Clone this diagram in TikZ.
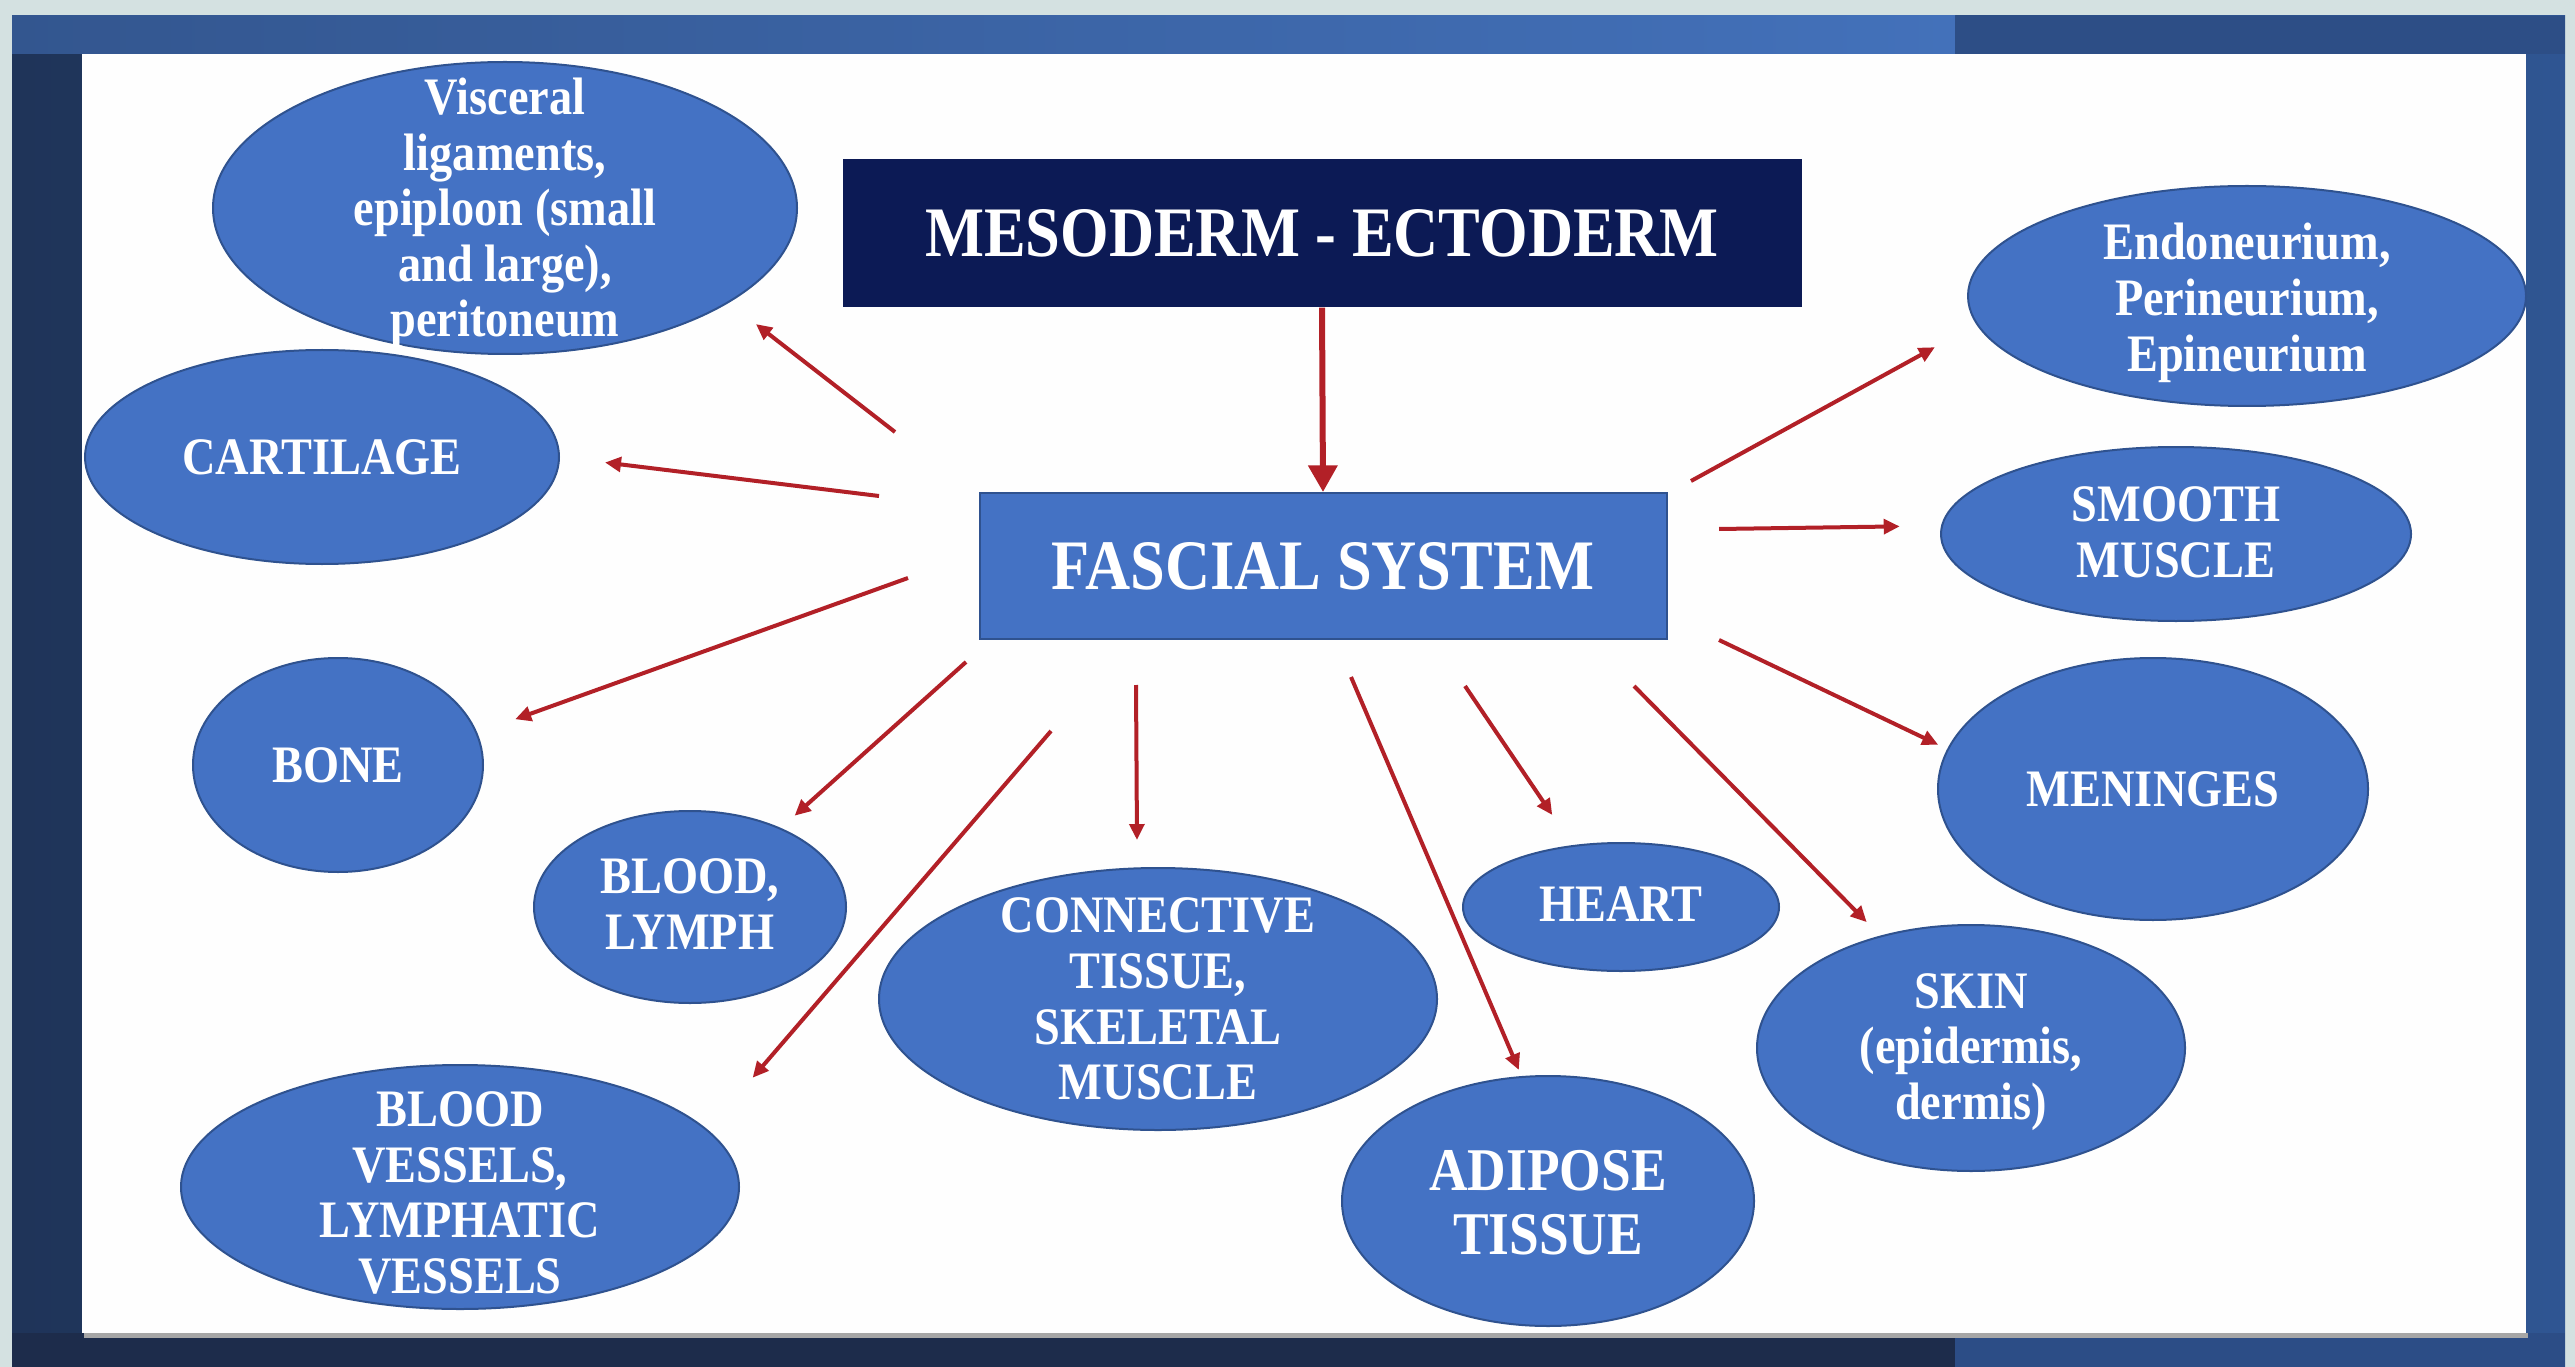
\documentclass[tikz,border=0pt]{standalone}
\usepackage{fontspec}
\setmainfont{Liberation Serif}[FakeStretch=0.88]
\usetikzlibrary{arrows.meta,shapes.geometric}
\definecolor{bgpale}{HTML}{D4E1E1}
\definecolor{framel}{HTML}{1F3459}
\definecolor{framer}{HTML}{2F5592}
\definecolor{topl}{HTML}{33568F}
\definecolor{topr}{HTML}{4371BA}
\definecolor{topdark}{HTML}{2D4E86}
\definecolor{botl}{HTML}{1D2C4B}
\definecolor{botr}{HTML}{2C4D86}
\definecolor{ellblue}{HTML}{4472C4}
\definecolor{ellborder}{HTML}{2F528F}
\definecolor{navy}{HTML}{0C1A55}
\definecolor{arrred}{HTML}{B22027}
\tikzset{
  ell/.style 2 args={ellipse, fill=ellblue, draw=ellborder, line width=0.6pt,
    minimum width=#1*0.6pt, minimum height=#2*0.6pt, inner sep=0pt},
  txt/.style={text=white, align=center, inner sep=0pt,
    font=\bfseries\fontsize{15.8}{16.7}\selectfont},
  bigtxt/.style={text=white, align=center, inner sep=0pt,
    font=\bfseries\fontsize{18.2}{19.2}\selectfont},
  boxtxt/.style={text=white, align=center, inner sep=0pt,
    font=\bfseries\fontsize{21.3}{24}\selectfont},
  arr/.style={draw=arrred, line width=1.2pt, -{Triangle[length=4.8pt,width=4.4pt]}},
  bigarr/.style={draw=arrred, line width=1.8pt, -{Triangle[length=8pt,width=8.5pt]}}
}
\begin{document}
\begin{tikzpicture}[x=0.3pt,y=-0.3pt]
% background and frame
\useasboundingbox (0,0) rectangle (2575,1367);
\fill[bgpale] (0,0) rectangle (2575,1367);
\shade[left color=framel, right color=framer] (12,16) rectangle (2565,1367);
\shade[left color=topl, right color=topr] (12,16) rectangle (1955,54);
\fill[topdark] (1955,16) rectangle (2565,54);
\fill[botl] (12,1333) rectangle (1955,1367);
\fill[botr] (1955,1333) rectangle (2565,1367);
\fill[black!35] (84,1333) rectangle (2528,1338);
\fill[white!99!gray] (82,54) rectangle (2526,1333);

% central boxes
\node[fill=navy, minimum width=287.7pt, minimum height=44.4pt, inner sep=0pt] (meso) at (1322,233) {};
\node[boxtxt] (mesoT) at (meso.center) {MESODERM - ECTODERM};
\node[fill=ellblue, draw=ellborder, line width=0.6pt, minimum width=206.1pt, minimum height=43.8pt, inner sep=0pt] (fasc) at (1323,566) {};
\node[boxtxt] (fascT) at (fasc.center) {FASCIAL SYSTEM};

% ellipses
\node[ell={292}{146}] (vis) at (505,208) {};
\node[txt] (visT) at (505,213) {Visceral\\ligaments,\\epiploon (small\\and large),\\peritoneum};
\node[ell={237}{107}] (cart) at (322,457) {};
\node[txt] (cartT) at (cart.center) {CARTILAGE};
\node[ell={145}{107}] (bone) at (338,765) {};
\node[txt] (boneT) at (bone.center) {BONE};
\node[ell={156}{96}] (blym) at (690,907) {};
\node[txt] (blymT) at (690,904) {BLOOD,\\LYMPH};
\node[ell={279}{122}] (bves) at (460,1187) {};
\node[txt] (bvesT) at (460,1193) {BLOOD\\VESSELS,\\LYMPHATIC\\VESSELS};
\node[ell={279}{131}] (conn) at (1158,999) {};
\node[txt] (connT) at (1158,999) {CONNECTIVE\\TISSUE,\\SKELETAL\\MUSCLE};
\node[ell={206}{125}] (adip) at (1548,1201) {};
\node[bigtxt] (adipT) at (1548,1203) {ADIPOSE\\TISSUE};
\node[ell={158}{64}] (heart) at (1621,907) {};
\node[txt] (heartT) at (1621,904) {HEART};
\node[ell={214}{123}] (skin) at (1971,1048) {};
\node[txt] (skinT) at (1971,1052) {SKIN\\(epidermis,\\dermis)};
\node[ell={215}{131}] (men) at (2153,789) {};
\node[txt] (menT) at (men.center) {MENINGES};
\node[ell={235}{87}] (smooth) at (2176,534) {};
\node[txt] (smoothT) at (2176,532) {SMOOTH\\MUSCLE};
\node[ell={279}{110}] (endo) at (2247,296) {};
\node[txt] (endoT) at (2247,303) {Endoneurium,\\Perineurium,\\Epineurium};

% arrow start points
\coordinate (s1) at (895,432);
\coordinate (s2) at (879,496);
\coordinate (s3) at (908,578);
\coordinate (s4) at (966,662);
\coordinate (s5) at (1051,731);
\coordinate (s6) at (1136,685);
\coordinate (s7) at (1351,677);
\coordinate (s8) at (1465,686);
\coordinate (s9) at (1634,686);
\coordinate (s10) at (1719,640);
\coordinate (s11) at (1719,529);
\coordinate (s12) at (1691,481);

% connectors
\draw[bigarr] (meso.south) -- (fasc.north);
\draw[arr, shorten >=10.35pt] (s1) -- (vis.-23.7);
\draw[arr, shorten >=13.6pt] (s2) -- (cart.-0.2);
\draw[arr, shorten >=12.05pt] (s3) -- (bone.13.2);
\draw[arr, shorten >=5.5pt] (s4) -- (blym.41.4);
\draw[arr, shorten >=20.6pt] (s5) -- (bves.13.7);
\draw[arr, shorten >=8.2pt] (s6) -- (conn.99.6);
\draw[arr, shorten >=2pt] (s7) -- (adip.102);
\draw[arr, shorten >=10.9pt] (s8) -- (heart.128.7);
\draw[arr, shorten >=5.7pt] (s9) -- (skin.129.1);
\draw[arr, shorten >=3pt] (s10) -- (men.169.7);
\draw[arr, shorten >=12.4pt] (s11) -- (smooth.178.8);
\draw[arr, shorten >=14.2pt] (s12) -- (endo.186.8);
\end{tikzpicture}
\end{document}
